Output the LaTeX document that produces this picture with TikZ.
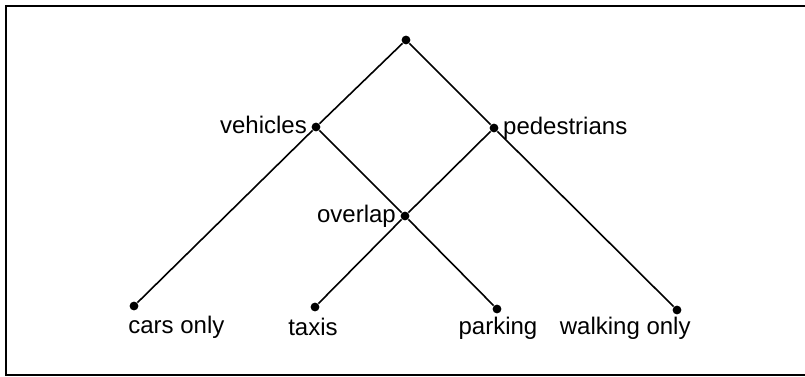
\documentclass[tikz,border=0pt]{standalone}
\usepackage{fontspec}
\setmainfont{Liberation Sans}
\usetikzlibrary{positioning}

\begin{document}
\begin{tikzpicture}[
    x=0.5pt, y=-0.5pt,
    vertex/.style={circle, fill=black, inner sep=0pt, minimum size=4.4pt},
    lbl/.style={font=\fontsize{12}{14}\selectfont, inner sep=1pt},
    edge/.style={line width=0.8pt}
]
\useasboundingbox (0,0) rectangle (805,376);
\draw[line width=1.2pt] (810,6) -- (6,6) -- (6,375) -- (810,375);

% points
\node [vertex] (root) at (406,40) {};
\node [vertex] (veh) at (316,127) {};
\node [vertex] (ped) at (494,128) {};
\node [vertex] (ovl) at (405,216) {};
\node [vertex] (cars) at (134,306) {};
\node [vertex] (taxi) at (315,307) {};
\node [vertex] (park) at (497,309) {};
\node [vertex] (walk) at (677,310) {};

% labels
\node [lbl, left=1pt of veh, yshift=1pt] {vehicles};
\node [lbl, right=1pt of ped] {pedestrians};
\node [lbl, left=1pt of ovl] {overlap};
\node [lbl, anchor=west] at (126,327) {cars only};
\node [lbl] at (313,327) {taxis};
\node [lbl] at (498,328) {parking};
\node [lbl, anchor=east] at (693,328) {walking only};

% branches
\draw [edge] (root) -- (veh) -- (cars);
\draw [edge] (root) -- (ped) -- (walk);
\draw [edge] (veh) -- (ovl) -- (park);
\draw [edge] (ped) -- (ovl) -- (taxi);

\end{tikzpicture}
\end{document}
